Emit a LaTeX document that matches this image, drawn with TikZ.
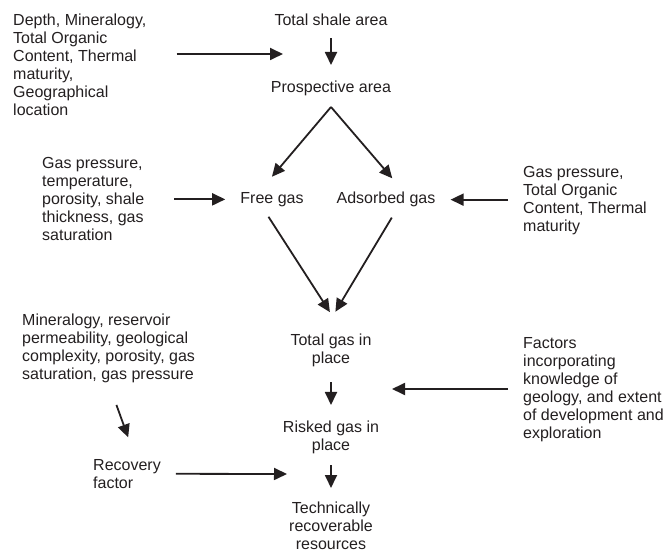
\documentclass[tikz,border=0pt]{standalone}
\usepackage{fontspec}
\setmainfont{Liberation Sans}
\usetikzlibrary{arrows.meta}

\definecolor{ink}{RGB}{35,31,32}

\tikzset{
    lbl/.style={font=\fontsize{16}{18}\selectfont, text=ink, inner sep=0pt},
    lblL/.style={lbl, align=left, anchor=north west},
    lblC/.style={lbl, align=center, anchor=north},
    flow/.style={draw=ink, line width=1.8pt, -{Triangle[length=13pt,width=12pt]}}
}

\begin{document}
\begin{tikzpicture}[x=1pt, y=-1pt]
        \useasboundingbox (0,0) rectangle (667,553);

        % centre column
        \node[lblC] (shale) at (331,14) {Total shale area};
        \node[lblC] (prosp) at (331,81) {Prospective area};
        \node[lblC] (free) at (272,192) {Free gas};
        \node[lblC] (ads) at (386,192) {Adsorbed gas};
        \node[lblC] (total) at (331,334) {Total gas in\\ place};
        \node[lblC] (risked) at (331,421) {Risked gas in\\ place};
        \node[lblC] (tech) at (331,502) {Technically\\ recoverable\\ resources};

        % factors
        \node[lblL] (depth) at (13,14) {Depth, Mineralogy,\\ Total Organic\\ Content, Thermal\\ maturity,\\ Geographical\\ location};
        \node[lblL] (gasL) at (42,157) {Gas pressure,\\ temperature,\\ porosity, shale\\ thickness, gas\\ saturation};
        \node[lblL] (gasR) at (523,166) {Gas pressure,\\ Total Organic\\ Content, Thermal\\ maturity};
        \node[lblL] (mineral) at (22,314) {Mineralogy, reservoir\\ permeability, geological\\ complexity, porosity, gas\\ saturation, gas pressure};
        \node[lblL] (rec) at (93,459) {Recovery\\ factor};
        \node[lblL] (factors) at (523,337) {Factors\\ incorporating\\ knowledge of\\ geology, and extent\\ of development and\\ exploration};

        \coordinate (apex) at (331,107);
        \coordinate (d1) at (283,54);
        \coordinate (r1) at (287,474);
        \coordinate (f1) at (392,389);

        % connectors
        \draw[flow, shorten <=12pt, shorten >=16pt] (shale.south) -- (prosp.north);
        \draw[flow, shorten >=20pt] (apex) -- ([xshift=-13pt]free.north);
        \draw[flow, shorten >=18pt] (apex) -- ([xshift=18pt]ads.north);
        \draw[flow, shorten <=12pt, shorten >=26pt] ([xshift=-10pt]free.south) -- ([xshift=13pt]total.north);
        \draw[flow, shorten <=12pt, shorten >=26pt] ([xshift=12pt]ads.south) -- ([xshift=-9pt]total.north);
        \draw[flow, shorten <=15pt, shorten >=16pt] (total.south) -- (risked.north);
        \draw[flow, shorten <=11pt, shorten >=14pt] (risked.south) -- (tech.north);

        \draw[flow, shorten <=30pt] (depth.east |- d1) -- (d1);
        \draw[flow, shorten <=30pt, shorten >=15pt] (gasL.east |- free) -- (free.west);
        \draw[flow, shorten <=15pt, shorten >=15pt] (gasR.west |- ads) -- (ads.east);
        \draw[flow, shorten <=23pt, shorten >=23pt] (mineral.south) -- ([xshift=9pt]rec.north);
        \draw[flow, shorten <=15pt] (rec.east) -- (r1);
        \draw[flow, shorten <=15pt] (factors.west |- f1) -- (f1);
\end{tikzpicture}
\end{document}
